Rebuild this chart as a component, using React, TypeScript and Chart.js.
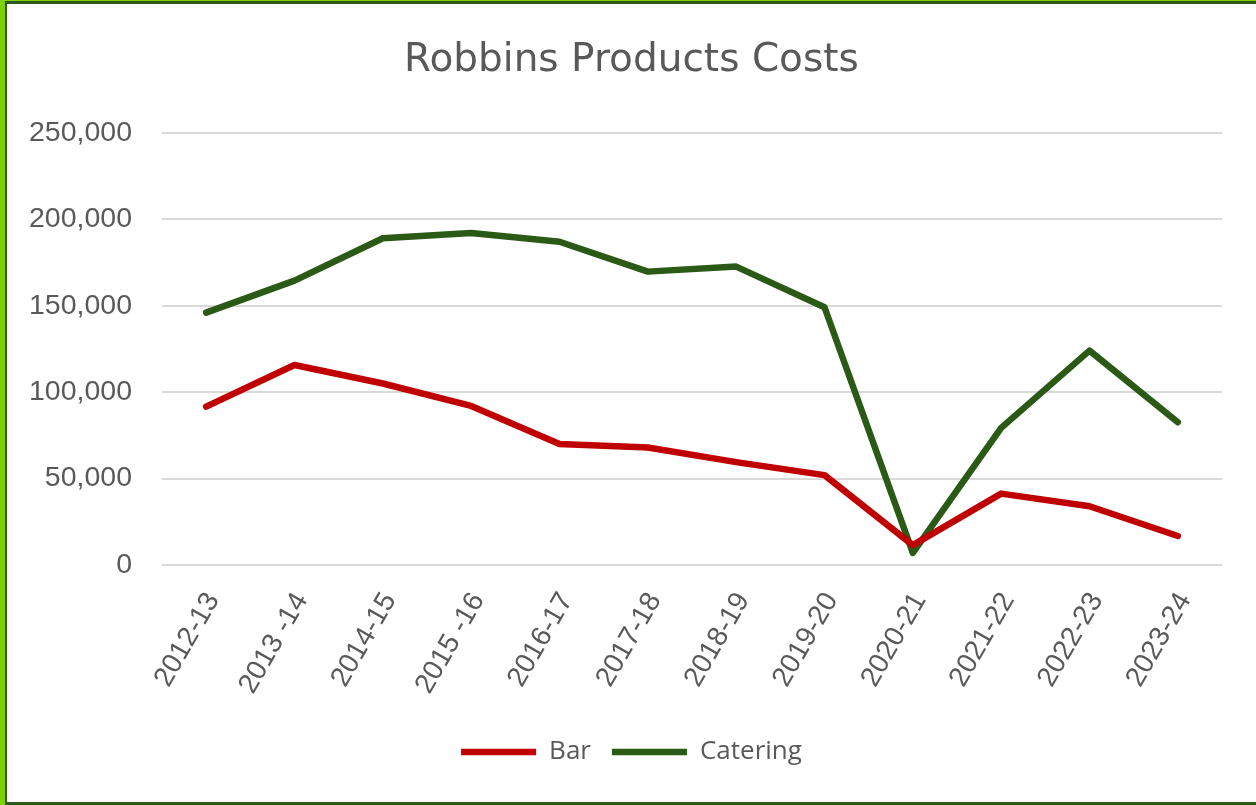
import React, { useEffect, useRef } from "react";
import { Chart, registerables } from "chart.js";

Chart.register(...registerables);

const categories = [
  "2012-13",
  "2013 -14",
  "2014-15",
  "2015 -16",
  "2016-17",
  "2017-18",
  "2018-19",
  "2019-20",
  "2020-21",
  "2021-22",
  "2022-23",
  "2023-24",
];

const barValues = [91600, 115700, 105000, 92000, 70000, 68000, 59500, 52000, 11500, 41300, 34000, 16800];
const cateringValues = [146000, 164500, 189000, 192000, 187000, 169700, 172600, 149100, 7000, 79300, 124000, 82600];

const yMin = 0;
const yMax = 250000;
const yStep = 50000;

const titleText = "Robbins Products Costs";
const seriesNames = ["Bar", "Catering"];
const seriesColors = ["#c00000", "#2b5a17"];

const TEXT = "#595959";
const TICK_FONT = "'Liberation Sans', Arial, sans-serif";
const TITLE_FONT = "'DejaVu Sans', 'Open Sans', sans-serif";
const LEGEND_FONT = "'Open Sans', Inter, sans-serif";

const unclipY = {
  id: "unclipY",
  afterLayout(chart: any) {
    const y = chart.scales.y;
    if (y) {
      y.left = 0;
      y.right = chart.chartArea.left;
    }
  },
};

export default function App() {
  const ref = useRef<HTMLCanvasElement | null>(null);

  useEffect(() => {
    if (!ref.current) return;
    document.body.style.margin = "0";
    const chart = new Chart(ref.current, {
      type: "line",
      data: {
        labels: categories,
        datasets: [
          {
            label: seriesNames[0],
            data: barValues,
            borderColor: seriesColors[0],
            backgroundColor: seriesColors[0],
            borderWidth: 6.5,
            pointRadius: 0,
            tension: 0,
            borderCapStyle: "round",
            borderJoinStyle: "round",
          },
          {
            label: seriesNames[1],
            data: cateringValues,
            borderColor: seriesColors[1],
            backgroundColor: seriesColors[1],
            borderWidth: 6.5,
            pointRadius: 0,
            tension: 0,
            borderCapStyle: "round",
            borderJoinStyle: "round",
          },
        ],
      },
      plugins: [unclipY],
      options: {
        animation: false,
        responsive: false,
        maintainAspectRatio: false,
        layout: { padding: { left: 41, right: 34, top: 0, bottom: 30 } },
        plugins: {
          tooltip: { enabled: false },
          title: {
            display: true,
            text: titleText,
            color: TEXT,
            font: { family: TITLE_FONT, size: 39, weight: "normal" },
            padding: { top: 37, bottom: 49 },
          },
          legend: {
            display: true,
            position: "bottom",
            labels: {
              usePointStyle: true,
              pointStyle: "line",
              pointStyleWidth: 75,
              color: TEXT,
              font: { family: LEGEND_FONT, size: 26 },
              padding: 21,
            },
          },
        },
        scales: {
          x: {
            offset: true,
            grid: { display: false, drawTicks: false },
            border: { display: false },
            ticks: {
              color: TEXT,
              font: { family: TICK_FONT, size: 28 },
              maxRotation: 60,
              minRotation: 60,
              padding: 22,
              labelOffset: 7,
              autoSkip: false,
            },
            afterFit: (axis: any) => {
              axis.paddingLeft = 0;
              axis.paddingRight = 0;
              axis.height = 153;
            },
          },
          y: {
            min: yMin,
            max: yMax,
            grid: { color: "#d9d9d9", lineWidth: 2, drawTicks: false },
            border: { display: false },
            ticks: {
              stepSize: yStep,
              color: TEXT,
              font: { family: TICK_FONT, size: 28.5 },
              padding: 30,
              callback: (v: any) => Number(v).toLocaleString("en-US"),
            },
            afterFit: (axis: any) => {
              axis.width = 121;
            },
          },
        },
      },
    });
    return () => chart.destroy();
  }, []);

  return (
    <div style={{ position: "fixed", left: 0, top: 0, width: 1256, height: 805, background: "#fff" }}>
      <canvas ref={ref} width={1256} height={805} style={{ position: "absolute", left: 0, top: 0 }} />
      <div
        style={{
          position: "absolute",
          left: 0,
          top: 0,
          width: 1256,
          height: 805,
          boxSizing: "border-box",
          borderLeft: "5px solid #7fd000",
          borderTop: "1px solid #7fd000",
          pointerEvents: "none",
        }}
      >
        <div
          style={{
            width: "100%",
            height: "100%",
            boxSizing: "border-box",
            borderLeft: "2px solid #2d5a1b",
            borderTop: "3px solid #2d5a1b",
            borderBottom: "3px solid #2d5a1b",
          }}
        />
      </div>
    </div>
  );
}
